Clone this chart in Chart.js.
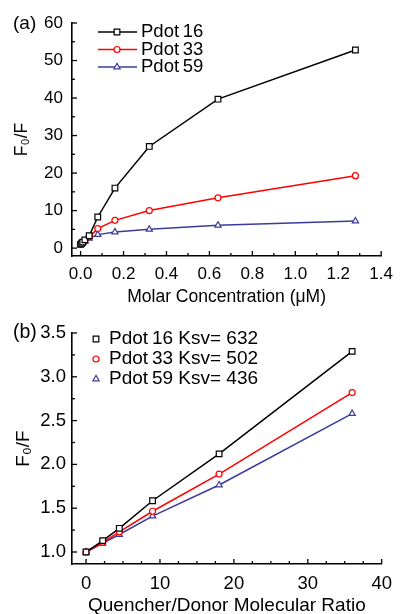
<!DOCTYPE html>
<html><head><meta charset="utf-8">
<script src="https://cdn.jsdelivr.net/npm/chart.js@4.4.0/dist/chart.umd.min.js"></script>
<style>html,body{margin:0;padding:0;background:#fff;overflow:hidden;width:401px;height:614px}
canvas{position:absolute;left:0}</style></head><body>
<canvas id="ca" width="401" height="307" style="top:0"></canvas>
<canvas id="cb" width="401" height="307" style="top:307px"></canvas>
<script>
const FONT = "'Liberation Sans', Arial, Helvetica, sans-serif";
// ---- Panel (a) data ----
const concA = [0, 0.005, 0.01, 0.02, 0.04, 0.08, 0.16, 0.32, 0.64, 1.28];
const pdot16A = [1.0, 1.3, 1.6, 2.2, 3.3, 8.3, 16.0, 27.1, 39.7, 52.8];
const pdot33A = [1.0, 1.2, 1.5, 2.0, 3.0, 5.2, 7.4, 10.0, 13.4, 19.3];
const pdot59A = [1.0, 1.2, 1.4, 1.8, 2.6, 3.6, 4.3, 5.0, 6.1, 7.2];
const xTicksA = [0, 0.2, 0.4, 0.6, 0.8, 1.0, 1.2, 1.4];
const yTicksA = [0, 10, 20, 30, 40, 50, 60];
const seriesNames = ['Pdot\u200916', 'Pdot\u200933', 'Pdot\u200959'];
// ---- Panel (b) data ----
const ratioB = [0, 2.25, 4.5, 9, 18, 36];
const pdot16B = [1.0, 1.13, 1.27, 1.585, 2.12, 3.29];
const pdot33B = [1.0, 1.11, 1.23, 1.465, 1.89, 2.82];
const pdot59B = [1.0, 1.10, 1.20, 1.41, 1.765, 2.58];
const ksvB = [632, 502, 436];
const xTicksB = [0, 10, 20, 30, 40];
const yTicksB = [1.0, 1.5, 2.0, 2.5, 3.0, 3.5];

const COLORS = ['#000000', '#ff0000', '#3b3b9a'];
const STYLES = ['rect', 'circle', 'triangle'];
const RADII = [4, 3, 3.6];

function pts(xs, ys) { return xs.map((x, i) => ({x: x, y: ys[i]})); }

function drawMarker(ctx, style, r, x, y, color) {
  ctx.save();
  ctx.strokeStyle = color; ctx.fillStyle = '#fff'; ctx.lineWidth = 1.2;
  if (Chart.helpers && Chart.helpers.drawPoint) {
    Chart.helpers.drawPoint(ctx, {pointStyle: style, radius: r, borderWidth: 1.2, rotation: 0}, x, y);
  } else {
    ctx.beginPath();
    if (style === 'rect') { const s = r * Math.SQRT1_2; ctx.rect(x - s, y - s, 2 * s, 2 * s); }
    else if (style === 'circle') ctx.arc(x, y, r, 0, Math.PI * 2);
    else { ctx.moveTo(x - r * 0.866, y + r * 0.5); ctx.lineTo(x, y - r); ctx.lineTo(x + r * 0.866, y + r * 0.5); ctx.closePath(); }
    ctx.fill(); ctx.stroke();
  }
  ctx.restore();
}

const tickPlugin = {
  id: 'axisTicks',
  afterDatasetsDraw(chart, args, opts) {
    const ctx = chart.ctx;
    ctx.save(); ctx.strokeStyle = '#000'; ctx.lineWidth = 1.3;
    ['x', 'y'].forEach(id => {
      const s = chart.scales[id];
      const c = opts[id];
      const vals = s.ticks.map(t => t.value);
      const minors = [];
      for (let i = 0; i < vals.length - 1; i++) {
        const st = (vals[i + 1] - vals[i]) / (c.minor + 1);
        for (let k = 1; k <= c.minor; k++) minors.push(vals[i] + k * st);
      }
      const draw = (v, inL, outL) => {
        const p = s.getPixelForValue(v);
        ctx.beginPath();
        if (id === 'x') { const b = chart.chartArea.bottom; ctx.moveTo(p, b - inL); ctx.lineTo(p, b + outL); }
        else { const l = chart.chartArea.left; ctx.moveTo(l - outL, p); ctx.lineTo(l + inL, p); }
        ctx.stroke();
      };
      vals.forEach(v => draw(v, c.majIn, c.majOut));
      minors.forEach(v => draw(v, c.minIn, c.minOut));
    });
    ctx.restore();
  }
};

const legendPlugin = {
  id: 'customLegend',
  afterDraw(chart, args, o) {
    const ctx = chart.ctx;
    ctx.save();
    ctx.font = o.font; ctx.textBaseline = 'middle'; ctx.textAlign = 'left'; ctx.fillStyle = '#000';
    chart.data.datasets.forEach((ds, i) => {
      const y = o.y0 + i * o.dy;
      if (o.line) {
        ctx.strokeStyle = ds.borderColor; ctx.lineWidth = 1.5;
        ctx.beginPath(); ctx.moveTo(o.lineFrom, y); ctx.lineTo(o.lineTo, y); ctx.stroke();
      }
      drawMarker(ctx, ds.pointStyle, ds.pointRadius, o.markerX, y, ds.borderColor);
      ctx.fillStyle = '#000';
      ctx.fillText(ds.label, o.textX, y);
    });
    ctx.font = o.panelFont;
    ctx.fillText(o.panel, o.panelX, o.panelY);
    ctx.restore();
  }
};

function datasets(xs, ys, labels) {
  return ys.map((arr, i) => ({
    label: labels[i],
    data: pts(xs, arr),
    showLine: true,
    borderColor: COLORS[i],
    backgroundColor: '#ffffff',
    pointBackgroundColor: '#ffffff',
    pointBorderColor: COLORS[i],
    pointStyle: STYLES[i],
    pointRadius: RADII[i],
    pointBorderWidth: 1.2,
    borderWidth: 1.5,
    clip: false
  }));
}

function makeChart(el, cfg) {
  return new Chart(el, {
    type: 'scatter',
    data: {datasets: cfg.datasets},
    plugins: [tickPlugin, legendPlugin],
    options: {
      responsive: false, animation: false, devicePixelRatio: 1,
      layout: {padding: {top: cfg.top, right: cfg.right, left: 0, bottom: 0}},
      plugins: {
        legend: {display: false}, tooltip: {enabled: false},
        axisTicks: cfg.ticks,
        customLegend: cfg.legend
      },
      scales: {
        x: {
          type: 'linear', min: cfg.xmin, max: cfg.xmax,
          afterFit: s => { s.height = cfg.xh; },
          afterBuildTicks: s => { s.ticks = cfg.xTicks.map(v => ({value: v})); },
          grid: {display: false, drawTicks: false},
          border: {display: true, color: '#000', width: 1.6},
          ticks: {color: '#000', font: {family: FONT, size: cfg.tickSize}, padding: cfg.xPad, maxRotation: 0,
                  callback: cfg.xFmt},
          title: {display: true, text: cfg.xTitle, color: '#000', font: {family: FONT, size: cfg.titleSize}, padding: {top: 0, bottom: cfg.xTitlePad}}
        },
        y: {
          type: 'linear', min: cfg.ymin, max: cfg.ymax,
          afterFit: s => { s.width = 72; },
          afterBuildTicks: s => { s.ticks = cfg.yTicks.map(v => ({value: v})); },
          grid: {display: false, drawTicks: false},
          border: {display: true, color: '#000', width: 1.6},
          ticks: {color: '#000', font: {family: FONT, size: cfg.tickSize}, padding: cfg.yPad, callback: cfg.yFmt},
          title: {display: true, text: 'F\u2080/F', color: '#000', font: {family: FONT, size: cfg.titleSize}, padding: {top: cfg.yTitlePad, bottom: 0}}
        }
      }
    }
  });
}

makeChart(document.getElementById('ca'), {
  datasets: datasets(concA, [pdot16A, pdot33A, pdot59A], seriesNames),
  top: 23, right: 14, xh: 51,
  xmin: -0.04, xmax: 1.4, ymin: -2.1, ymax: 60,
  xTicks: xTicksA, yTicks: yTicksA,
  xFmt: v => Number(v).toFixed(1), yFmt: v => String(v),
  tickSize: 17, titleSize: 17.5, xPad: 8, yPad: 9, xTitlePad: -1, yTitlePad: 12,
  xTitle: 'Molar Concentration (\u03bcM)',
  ticks: {x: {minor: 1, majIn: 5, majOut: 0, minIn: 3, minOut: 0}, y: {minor: 1, majIn: 5, majOut: 0, minIn: 3, minOut: 0}},
  legend: {font: '18.5px ' + FONT, line: true, y0: 32, dy: 17.5, lineFrom: 98, lineTo: 137, markerX: 117, textX: 141,
           panel: '(a)', panelFont: '19px ' + FONT, panelX: 13, panelY: 24}
});

makeChart(document.getElementById('cb'), {
  datasets: datasets(ratioB, [pdot16B, pdot33B, pdot59B], seriesNames.map((n, i) => n + ' Ksv= ' + ksvB[i])),
  top: 26, right: 16, xh: 50,
  xmin: -1.9, xmax: 40, ymin: 0.863, ymax: 3.5,
  xTicks: xTicksB, yTicks: yTicksB,
  xFmt: v => String(v), yFmt: v => Number(v).toFixed(1),
  tickSize: 18.5, titleSize: 19, xPad: 9, yPad: 6, xTitlePad: -3, yTitlePad: 12,
  xTitle: 'Quencher/Donor Molecular Ratio',
  ticks: {x: {minor: 3, majIn: 5, majOut: 0, minIn: 3, minOut: 0}, y: {minor: 1, majIn: 5, majOut: 0, minIn: 3, minOut: 0}},
  legend: {font: '19px ' + FONT, line: false, y0: 32, dy: 20, markerX: 96, textX: 109,
           panel: '(b)', panelFont: '19.5px ' + FONT, panelX: 13, panelY: 26}
});
</script></body></html>
